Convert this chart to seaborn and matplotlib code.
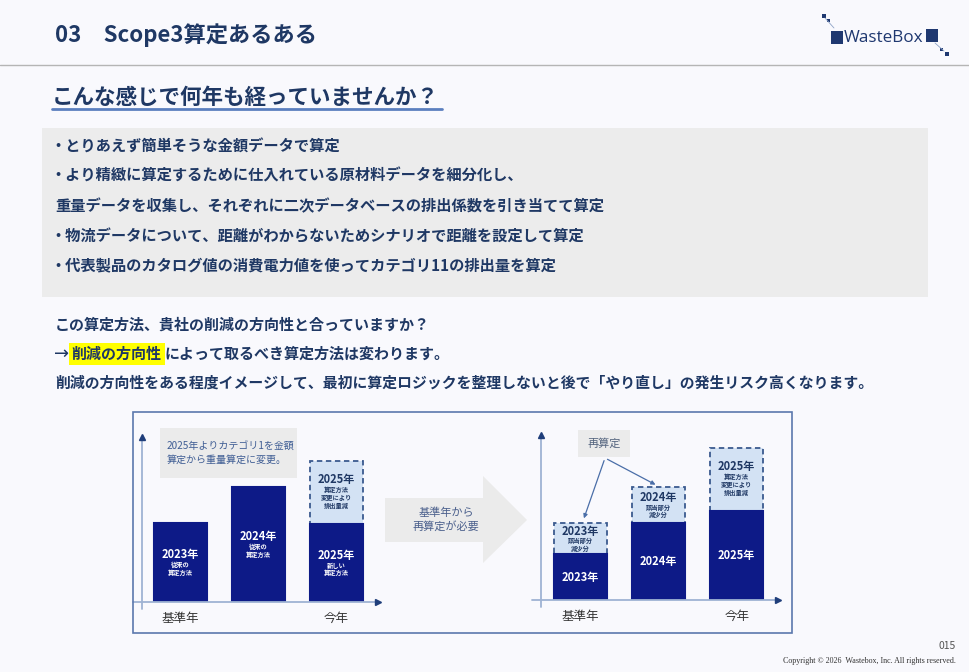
import matplotlib
matplotlib.use("Agg")
import matplotlib.pyplot as plt
from matplotlib.patches import Rectangle, Polygon, FancyArrowPatch
import pandas as pd
import seaborn as sns

W, H = 969, 672

# ---------------- data ----------------
years = ["2023年", "2024年", "2025年"]

# left chart: before recalculation (bar heights, px units of the slide)
before_solid = [79, 115, 78]
before_total = [79, 115, 141]
before_dashed = [2]
before_notes = ["従来の\n算定方法", "従来の\n算定方法", "新しい\n算定方法"]
before_dash_notes = {2: "算定方法\n変更により\n排出量減"}

# right chart: after recalculation
after_solid = [46, 77, 89]
after_total = [77, 113, 152]
after_dashed = [0, 1, 2]
after_notes = ["", "", ""]
after_dash_notes = {0: "該当部分\n減少分", 1: "該当部分\n減少分", 2: "算定方法\n変更により\n排出量減"}

tick_pos = [0, 2]
tick_labels = ["基準年", "今年"]

bullets = [
    "・とりあえず簡単そうな金額データで算定",
    "・より精緻に算定するために仕入れている原材料データを細分化し、",
    "重量データを収集し、それぞれに二次データベースの排出係数を引き当てて算定",
    "・物流データについて、距離がわからないためシナリオで距離を設定して算定",
    "・代表製品のカタログ値の消費電力値を使ってカテゴリ11の排出量を算定",
]
bullet_y = [147, 176, 206, 236, 265]

# ---------------- style ----------------
sns.set_style("white")
plt.rcParams['font.family'] = ['Noto Sans CJK JP', 'DejaVu Sans']

NAVY = "#0d1a87"
LIGHT = "#d3e2f4"
EDGE = "#3b5a8f"
TEXT = "#1f3864"
AX_LIGHT = "#9fb3d3"
AX_DARK = "#1f3e7a"
BG = "#f9f9fd"


def fx(px):
    return px / W


def fy(py):
    return 1 - py / H


fig = plt.figure(figsize=(W / 100, H / 100), dpi=100, facecolor=BG)


def txt(px, py, s, **kw):
    return fig.text(fx(px), fy(py), s, **kw)


def rect(x0, y0, x1, y1, **kw):
    r = Rectangle((fx(x0), fy(y1)), fx(x1) - fx(x0), fy(y0) - fy(y1),
                  transform=fig.transFigure, **kw)
    fig.add_artist(r)
    return r


# header
txt(55, 35, "03　Scope3算定あるある", fontsize=16, weight="bold", color=TEXT, va="center")
fig.add_artist(plt.Line2D([0, 1], [fy(65), fy(65)], color="#b5b5b5", lw=1))

# logo
rect(831, 31, 843, 44, facecolor="#1f3870", edgecolor="none")
rect(926, 29, 938, 42, facecolor="#1f3870", edgecolor="none")
for (px, py, s) in [(822, 14, 4), (827, 19, 3), (940, 48, 3), (945, 52, 4)]:
    rect(px, py, px + s, py + s, facecolor="#1f3870", edgecolor="none")
fig.add_artist(plt.Line2D([fx(825), fx(834)], [fy(18), fy(28)], color="#8ea3c7", lw=0.6))
fig.add_artist(plt.Line2D([fx(935), fx(944)], [fy(43), fy(51)], color="#8ea3c7", lw=0.6))
txt(844, 38, "WasteBox", fontsize=12.3, color="#1f3870", va="center", family="Open Sans")

# sub title
txt(52, 97, "こんな感じで何年も経っていませんか？", fontsize=15.5, weight="bold", color=TEXT, va="center")
fig.add_artist(plt.Line2D([fx(52), fx(442)], [fy(109), fy(109)], color="#5b7fbf", lw=2))

# gray box with bullets
rect(42, 128, 928, 297, facecolor="#ececec", edgecolor="none")
for s, y in zip(bullets, bullet_y):
    txt(50 if s.startswith("・") else 55, y, s, fontsize=11, weight="bold", color=TEXT, va="center")

# questions
txt(55, 325, "この算定方法、貴社の削減の方向性と合っていますか？", fontsize=10.8, weight="bold", color=TEXT, va="center")
t1 = txt(54, 354, "→", fontsize=13, color=TEXT, va="center", family="DejaVu Sans")
fig.canvas.draw()
r = fig.canvas.get_renderer()
pad_px = 2 * fig.dpi / 72
x_px = t1.get_window_extent(r).x1 + pad_px
t2 = fig.text(x_px / fig.dpi / fig.get_figwidth(), fy(354), "削減の方向性", fontsize=10.8, weight="bold",
              color=TEXT, va="center", bbox=dict(facecolor="#ffff00", edgecolor="none", pad=2))
fig.canvas.draw()
x_px = t2.get_window_extent(r).x1 + pad_px
fig.text(x_px / fig.dpi / fig.get_figwidth(), fy(354), "によって取るべき算定方法は変わります。",
         fontsize=10.8, weight="bold", color=TEXT, va="center")
txt(55, 383, "削減の方向性をある程度イメージして、最初に算定ロジックを整理しないと後で「やり直し」の発生リスク高くなります。",
    fontsize=10.7, weight="bold", color=TEXT, va="center")

# chart frame
rect(133, 412, 792, 633, facecolor="none", edgecolor="#5b78ad", lw=1.2)


def put_label(ax, i, mid, note, color, tight=False):
    # year in bigger type, note lines in small type below it
    if not note:
        ax.text(i, mid, years[i], ha="center", va="center", color=color, fontsize=8, weight="bold")
        return
    n = note.count("\n") + 1
    if n == 2:
        big_off, small_off = (6.5, -6) if tight else (8, -6)
    else:
        big_off, small_off = (13, -5)
    ax.text(i, mid + big_off, years[i], ha="center", va="center", color=color, fontsize=8, weight="bold")
    ax.text(i, mid + small_off, note, ha="center", va="center", color=color, fontsize=4.5,
            weight="bold", linespacing=1.1)


def draw_chart(ax, solid, total, dashed_idx, notes, dash_notes):
    df_tot = pd.DataFrame({"year": [years[i] for i in dashed_idx],
                           "v": [total[i] for i in dashed_idx]})
    sns.barplot(data=df_tot, x="year", y="v", order=years, color=LIGHT, saturation=1,
                edgecolor=EDGE, linestyle=(0, (3, 2)), linewidth=1.3, width=0.68,
                errorbar=None, ax=ax)
    df_sol = pd.DataFrame({"year": years, "v": solid})
    sns.barplot(data=df_sol, x="year", y="v", order=years, color=NAVY, saturation=1,
                edgecolor=NAVY, linewidth=1.5, width=0.68, errorbar=None, ax=ax)
    ax.set_facecolor("none")
    for sp in ax.spines.values():
        sp.set_visible(False)
    ax.set_ylim(0, 165)
    ax.set_yticks([])
    ax.set_xlabel("")
    ax.set_ylabel("")
    ax.set_xticks(tick_pos)
    ax.set_xticklabels(tick_labels)
    ax.tick_params(axis="x", length=0, pad=7, labelsize=9, labelcolor="#333333")

    # axis arrows
    ax.plot([0, 0], [-0.04, 0.99], transform=ax.transAxes, color=AX_LIGHT, lw=1.3, clip_on=False)
    ax.plot([0], [1], marker="^", ms=5, color=AX_DARK, transform=ax.transAxes, clip_on=False)
    ax.plot([-0.04, 0.99], [0, 0], transform=ax.transAxes, color=AX_LIGHT, lw=1.3, clip_on=False)
    ax.plot([1], [0], marker=">", ms=5, color=AX_DARK, transform=ax.transAxes, clip_on=False)

    for i, (v, note) in enumerate(zip(solid, notes)):
        put_label(ax, i, v / 2, note, "white")
    for i, note in dash_notes.items():
        put_label(ax, i, (solid[i] + total[i]) / 2, note, TEXT, tight=(total[i] - solid[i]) < 35)


ax1 = fig.add_axes([fx(142), fy(602), 236 / W, 165 / H])
draw_chart(ax1, before_solid, before_total, before_dashed, before_notes, before_dash_notes)
ax1.set_xlim(-0.494, 2.532)

ax2 = fig.add_axes([fx(541), fy(600), 237 / W, 165 / H])
draw_chart(ax2, after_solid, after_total, after_dashed, after_notes, after_dash_notes)
ax2.set_xlim(-0.506, 2.53)

# note box (left chart)
rect(160, 428, 297, 478, facecolor="#ebebeb", edgecolor="none")
txt(167, 453, "2025年よりカテゴリ1を金額\n算定から重量算定に変更。", fontsize=7.2, color="#3f5d94",
    va="center", linespacing=1.35)

# middle arrow
pts = [(385, 498), (483, 498), (483, 476), (527, 520), (483, 563), (483, 542), (385, 542)]
fig.add_artist(Polygon([(fx(a), fy(b)) for a, b in pts], closed=True, transform=fig.transFigure,
                       facecolor="#ebebeb", edgecolor="none"))
txt(446, 520, "基準年から\n再算定が必要", fontsize=8, color="#4a5f8c", ha="center", va="center",
    linespacing=1.3)

# recalculation callout
rect(578, 430, 630, 457, facecolor="#ebebeb", edgecolor="none")
txt(604, 443, "再算定", fontsize=8, color="#55657f", ha="center", va="center")
for tx, ty in [(583, 521), (658, 486)]:
    fig.add_artist(FancyArrowPatch((fx(605), fy(458)), (fx(tx), fy(ty)), transform=fig.transFigure,
                                   arrowstyle="-|>", mutation_scale=6, color="#4a6ea8", lw=0.9))

# footer
txt(956, 646, "015", fontsize=7.5, color="#555555", ha="right", va="center")
txt(956, 661, "Copyright © 2026  Wastebox, Inc. All rights reserved.", fontsize=5.8,
    color="#333333", ha="right", va="center", family="Liberation Serif")

fig.savefig("out.png", dpi=100, facecolor=BG)
